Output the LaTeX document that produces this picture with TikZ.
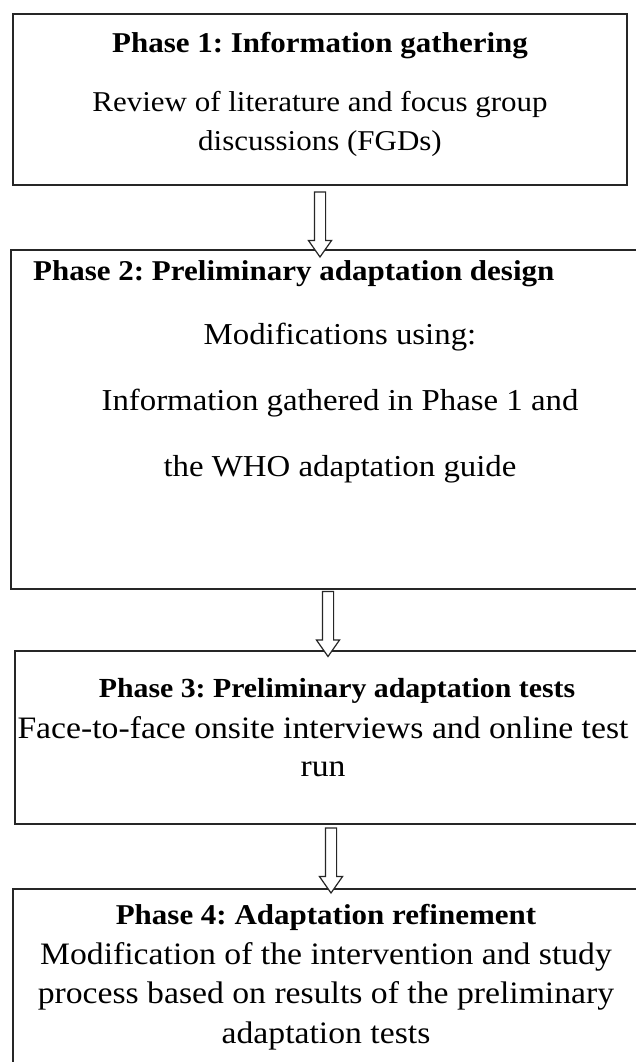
\documentclass[tikz,border=0pt]{standalone}
\usepackage{fontspec}
\setmainfont{Liberation Serif}[FakeStretch=1.08]
\usetikzlibrary{positioning, calc, shapes.arrows}

\begin{document}
\frenchspacing
\begin{tikzpicture}[x=1pt, y=-1pt,
      phasebox/.style={draw=black!85, line width=1.6pt, inner sep=0pt},
      titletext/.style={anchor=base, inner sep=0pt, font=\fontsize{#1}{34}\selectfont\bfseries},
      titletext/.default=28.7,
      bodytext/.style 2 args={anchor=base, inner sep=0pt, align=center, font=\fontsize{#1}{#2}\selectfont},
      hollowarrow/.style={single arrow, draw=black!85, fill=white, line width=1.2pt, rotate=-90,
        minimum height=65pt, minimum width=22pt, inner sep=5pt,
        single arrow head extend=6pt, single arrow tip angle=70, single arrow head indent=0pt}
    ]
      \useasboundingbox (0,0) rectangle (635,1062);

      % phase boxes
      \node [phasebox, minimum width=614pt, minimum height=171pt] (p1) at (320,99.5) {};
      \node [phasebox, minimum width=628pt, minimum height=339pt] (p2) at (325,419.5) {};
      \node [phasebox, minimum width=632pt, minimum height=173pt] (p3) at (331,737.5) {};
      \node [phasebox, minimum width=637pt, minimum height=191pt] (p4) at (331.5,984.5) {};

      % texts (base = last line)
      \node [titletext] (p1title) at (320,53) {Phase 1: Information gathering};
      \node [bodytext={28.7}{38.3}] (p1body) at (320,150) {Review of literature and focus group\\discussions (FGDs)};

      \node [titletext, anchor=base west] (p2title) at (33,280) {Phase 2: Preliminary adaptation design};
      \node [bodytext={30.4}{66}] (p2body) at (340,476) {Modifications using:\\Information gathered in Phase 1 and\\the WHO adaptation guide};

      \node [titletext=27.6] (p3title) at (337,697) {Phase 3: Preliminary adaptation tests};
      \node [bodytext={31.2}{38}] (p3body) at (323,776) {Face-to-face onsite interviews and online test\\run};

      \node [titletext] (p4title) at (326,924) {Phase 4: Adaptation refinement};
      \node [bodytext={31.2}{39.5}] (p4body) at (326,1043) {Modification of the intervention and study\\process based on results of the preliminary\\adaptation tests};

      % arrows between phases
      \node [hollowarrow, xshift=3pt] (a1) at ($(p1.south)!0.5!(p1.south |- p2.north)$) {};
      \node [hollowarrow] (a2) at ($(p2.south)!0.5!(p3.north)$) {};
      \node [hollowarrow] (a3) at ($(p3.south)!0.5!(p3.south |- p4.north)$) {};
    \end{tikzpicture}
\end{document}
